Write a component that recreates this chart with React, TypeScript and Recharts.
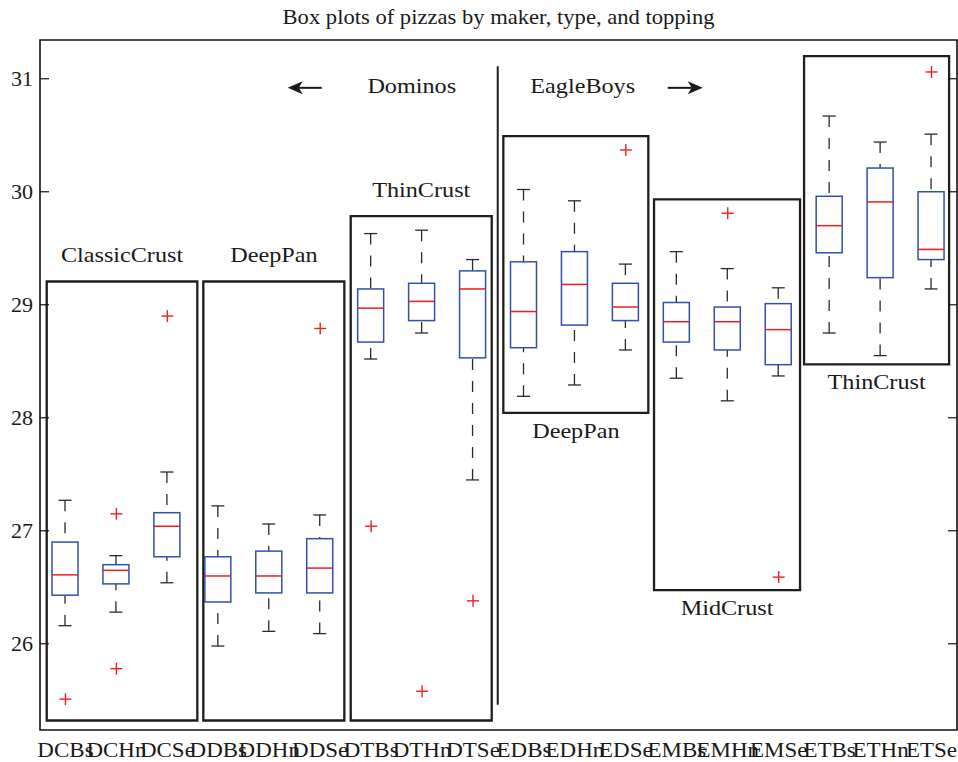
import React from "react";
import {
  ComposedChart,
  Bar,
  Scatter,
  XAxis,
  YAxis,
  ReferenceArea,
  ReferenceLine,
} from "recharts";

// categories: maker (D/E) + crust (C/D/T/M) + topping (Bs/Hn/Se)
const labels = [
  "DCBs", "DCHn", "DCSe", "DDBs", "DDHn", "DDSe", "DTBs", "DTHn", "DTSe",
  "EDBs", "EDHn", "EDSe", "EMBs", "EMHn", "EMSe", "ETBs", "ETHn", "ETSe",
];
const whiskerLow = [26.16, 26.28, 26.54, 25.98, 26.11, 26.09, 28.52, 28.75, 27.45, 28.19, 28.29, 28.6, 28.35, 28.15, 28.37, 28.75, 28.55, 29.14];
const q1 = [26.43, 26.53, 26.77, 26.37, 26.45, 26.45, 28.67, 28.86, 28.53, 28.62, 28.82, 28.86, 28.67, 28.6, 28.47, 29.46, 29.24, 29.4];
const median = [26.61, 26.65, 27.04, 26.6, 26.6, 26.67, 28.97, 29.03, 29.14, 28.94, 29.18, 28.98, 28.85, 28.85, 28.78, 29.7, 29.91, 29.49];
const q3 = [26.9, 26.7, 27.16, 26.77, 26.82, 26.93, 29.14, 29.19, 29.3, 29.38, 29.47, 29.19, 29.02, 28.98, 29.01, 29.96, 30.21, 30.0];
const whiskerHigh = [27.27, 26.78, 27.52, 27.22, 27.06, 27.14, 29.63, 29.66, 29.4, 30.02, 29.92, 29.36, 29.47, 29.32, 29.15, 30.67, 30.44, 30.51];

// outliers (category position, value)
const outlierX = [1, 2, 2, 3, 6, 7, 8, 9, 12, 14, 15, 18];
const outlierY = [25.51, 27.15, 25.78, 28.9, 28.79, 27.04, 25.58, 26.38, 30.37, 29.81, 26.59, 31.06];

// group boxes drawn round each crust type
const groupNames = ["ClassicCrust", "DeepPan", "ThinCrust", "DeepPan", "MidCrust", "ThinCrust"];
const groupX1 = [0.632, 3.706, 6.599, 9.595, 12.553, 15.498];
const groupX2 = [3.588, 6.474, 9.367, 12.441, 15.419, 18.345];
const groupLow = [25.321, 25.321, 25.321, 28.044, 26.475, 28.472];
const groupHigh = [29.206, 29.206, 29.784, 30.492, 29.932, 31.2];
const groupLabelSide = ["top", "top", "top", "bottom", "bottom", "bottom"];

const makers = ["Dominos", "EagleBoys"];
const dividerX = 9.485;
const dividerY = [25.46, 31.11];

const yTicks = [26, 27, 28, 29, 30, 31];
const xTicks = labels.map((_, i) => i + 1);
const Y_DOMAIN: [number, number] = [25.237, 31.343];
const X_DOMAIN: [number, number] = [0.5, 18.5];

const W = 958;
const H = 762;
const MARGIN = { top: 40, right: 1, bottom: 0, left: 0 };
const FONT = "'Liberation Serif', 'Times New Roman', serif";
const INK = "#1a1a1a";

const boxData = labels.map((name, i) => ({
  x: i + 1,
  name,
  box: [q1[i], q3[i]],
  lo: whiskerLow[i],
  q1: q1[i],
  med: median[i],
  q3: q3[i],
  hi: whiskerHigh[i],
}));

const outliers = outlierX.map((x, i) => ({ x, y: outlierY[i] }));

function SText({ x, y, size, sx = 1.1, anchor = "middle", children }: any) {
  return (
    <text
      transform={`translate(${x} ${y}) scale(${sx} 1)`}
      textAnchor={anchor}
      fontSize={size}
      fontFamily={FONT}
      fill={INK}
    >
      {children}
    </text>
  );
}

function BoxShape(props: any) {
  const { x, y, width, height, payload } = props;
  if (!payload || !height) return null;
  const k = height / (payload.q3 - payload.q1);
  const py = (v: number) => y + (payload.q3 - v) * k;
  const cx = x + width / 2;
  const cap = width / 4;
  const whisk = { stroke: "#2a2a2a", strokeWidth: 1.3 };
  return (
    <g>
      <line x1={cx} x2={cx} y1={py(payload.hi)} y2={y} {...whisk} strokeDasharray="11 11" />
      <line x1={cx} x2={cx} y1={py(payload.lo)} y2={y + height} {...whisk} strokeDasharray="11 11" />
      <line x1={cx - cap} x2={cx + cap} y1={py(payload.hi)} y2={py(payload.hi)} {...whisk} />
      <line x1={cx - cap} x2={cx + cap} y1={py(payload.lo)} y2={py(payload.lo)} {...whisk} />
      <rect x={x} y={y} width={width} height={height} fill="#fff" stroke="#3050b0" strokeWidth={1.5} />
      <line x1={x} x2={x + width} y1={py(payload.med)} y2={py(payload.med)} stroke="#f01c1c" strokeWidth={1.5} />
    </g>
  );
}

function PlusShape(props: any) {
  const { cx, cy } = props;
  if (cx == null || cy == null) return null;
  return (
    <g stroke="#f02020" strokeWidth={1.4}>
      <line x1={cx - 6} x2={cx + 6} y1={cy} y2={cy} />
      <line x1={cx} x2={cx} y1={cy - 6} y2={cy + 6} />
    </g>
  );
}

function YTick(props: any) {
  const { x, y, payload } = props;
  const right = W - MARGIN.right;
  return (
    <g>
      <SText x={x} y={y + 7} size={21} sx={1.05} anchor="end">
        {payload.value}
      </SText>
      <line x1={x + 7} x2={x + 16} y1={y} y2={y} stroke="#111" strokeWidth={1.2} />
      <line x1={right - 9} x2={right} y1={y} y2={y} stroke="#111" strokeWidth={1.2} />
    </g>
  );
}

function XTick(props: any) {
  const { x, y, payload } = props;
  return (
    <SText x={x} y={y + 27} size={20} sx={1.15}>
      {labels[payload.value - 1]}
    </SText>
  );
}

const groupLabel = (text: string, side: string) => (props: any) => {
  const vb = props.viewBox || {};
  const cx = vb.x + vb.width / 2;
  const ty = side === "top" ? vb.y - 19 : vb.y + vb.height + 25;
  return (
    <SText x={cx} y={ty} size={22} sx={1.1}>
      {text}
    </SText>
  );
};

const titleLabel = (props: any) => {
  const vb = props.viewBox || {};
  return (
    <SText x={vb.x + vb.width / 2} y={vb.y - 16} size={20} sx={1.13}>
      Box plots of pizzas by maker, type, and topping
    </SText>
  );
};

function Arrow({ x1, x2, y }: any) {
  const dir = x2 > x1 ? 1 : -1;
  const head = x2 - dir * 15;
  return (
    <g>
      <line x1={x1} x2={head + dir * 4} y1={y} y2={y} stroke={INK} strokeWidth={2} />
      <polygon points={`${x2},${y} ${head},${y - 6.5} ${head + dir * 4},${y} ${head},${y + 6.5}`} fill={INK} />
    </g>
  );
}

const makerHeader = (props: any) => {
  const vb = props.viewBox || {};
  const dx = vb.x;
  const top = vb.y;
  return (
    <g>
      <Arrow x1={dx - 176} x2={dx - 210} y={top + 21.5} />
      <SText x={dx - 86} y={top + 26.5} size={22} sx={1.1}>
        {makers[0]}
      </SText>
      <SText x={dx + 85} y={top + 26.5} size={22} sx={1.1}>
        {makers[1]}
      </SText>
      <Arrow x1={dx + 170} x2={dx + 205} y={top + 21.5} />
    </g>
  );
};

export default function App() {
  return (
    <div style={{ position: "absolute", left: 0, top: 0, width: W, height: H, background: "#fff" }}>
      <ComposedChart width={W} height={H} data={boxData} margin={MARGIN}>
        <XAxis
          dataKey="x"
          type="number"
          domain={X_DOMAIN}
          ticks={xTicks}
          interval={0}
          allowDataOverflow
          axisLine={false}
          tickLine={false}
          tickSize={0}
          tickMargin={0}
          height={32}
          tick={<XTick />}
        />
        <YAxis
          type="number"
          domain={Y_DOMAIN}
          ticks={yTicks}
          interval={0}
          allowDataOverflow
          axisLine={false}
          tickLine={false}
          tickSize={7}
          tickMargin={0}
          width={40}
          tick={<YTick />}
        />

        {/* plot frame + title */}
        <ReferenceArea
          x1={X_DOMAIN[0]}
          x2={X_DOMAIN[1]}
          y1={Y_DOMAIN[0]}
          y2={Y_DOMAIN[1]}
          fill="none"
          stroke="#111"
          strokeWidth={1.6}
          ifOverflow="visible"
          label={titleLabel}
        />

        {/* crust groups */}
        {groupNames.map((g, i) => (
          <ReferenceArea
            key={i}
            x1={groupX1[i]}
            x2={groupX2[i]}
            y1={groupLow[i]}
            y2={groupHigh[i]}
            fill="none"
            stroke="#1e1e1e"
            strokeWidth={2.3}
            ifOverflow="visible"
            label={groupLabel(g, groupLabelSide[i])}
          />
        ))}

        {/* maker divider */}
        <ReferenceLine
          segment={[
            { x: dividerX, y: dividerY[0] },
            { x: dividerX, y: dividerY[1] },
          ]}
          stroke="#1e1e1e"
          strokeWidth={2}
          ifOverflow="visible"
          label={makerHeader}
        />

        <Bar dataKey="box" barSize={26} shape={<BoxShape />} isAnimationActive={false} />
        <Scatter data={outliers} dataKey="y" shape={<PlusShape />} isAnimationActive={false} />
      </ComposedChart>
    </div>
  );
}
